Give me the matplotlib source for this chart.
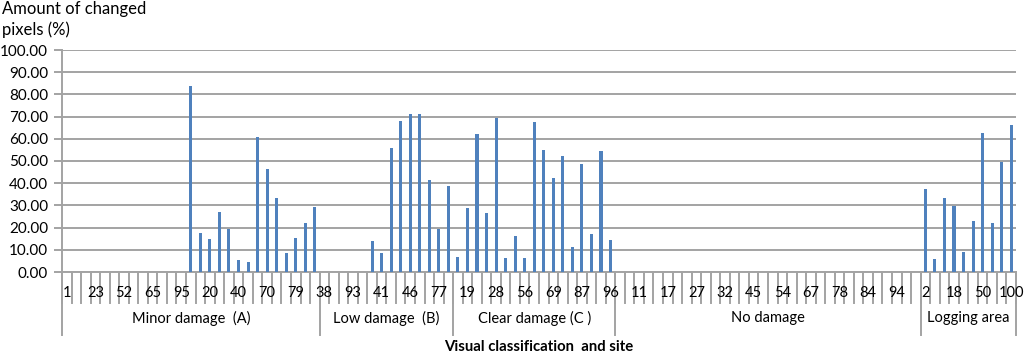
import matplotlib
matplotlib.use("Agg")
import matplotlib.pyplot as plt
import matplotlib.transforms as mtransforms
import numpy as np

# bar heights per site, 100 categories in axis order (0 = no bar)
minor_vals = [0] * 13 + [83.7, 17.7, 14.8, 27.1, 19.3, 5.5, 4.3, 61.0, 46.5, 33.3, 8.4, 15.4, 22.2, 29.4]
low_vals = [0] * 5 + [13.9, 8.4, 56.0, 68.1, 71.0, 71.2, 41.6, 19.5, 38.8]
clear_vals = [6.7, 28.9, 62.3, 26.6, 69.3, 6.1, 16.2, 6.1, 67.7, 54.9, 42.2, 52.2, 11.2, 48.8, 17.2, 54.3, 14.4]
nodamage_vals = [0] * 32
logging_vals = [37.2, 6.0, 33.5, 29.9, 8.9, 22.8, 62.8, 22.2, 49.5, 66.2]

group_names = ["Minor damage  (A)", "Low damage  (B)", "Clear damage (C )", "No damage", "Logging area"]
group_series = [minor_vals, low_vals, clear_vals, nodamage_vals, logging_vals]

# site labels shown on the axis (every third category)
shown_sites = ["1", "23", "52", "65", "95", "20", "40", "70", "79", "38", "93", "41",
               "46", "77", "19", "28", "56", "69", "87", "96", "11", "17", "27", "32",
               "45", "54", "67", "78", "84", "94", "2", "18", "50", "100"]
label_step = 3

values = np.concatenate([np.asarray(v, dtype=float) for v in group_series])
sizes = [len(v) for v in group_series]
n = len(values)
x = np.arange(n)

plt.rcParams["font.family"] = ["Lato", "DejaVu Sans"]
grid_col = "#a3a3a3"
bar_col = "#4f81bd"

fig = plt.figure(figsize=(10.24, 3.55), dpi=100)
ax = fig.add_axes([62 / 1024, 83 / 355, 954 / 1024, 222 / 355])

ax.bar(x, np.where(values > 0, values, np.nan), width=0.32, color=bar_col, zorder=3)
ax.set_xlim(-0.5, n - 0.5)
ax.set_ylim(0, 100)
ax.set_yticks(np.arange(0, 101, 10))
ax.set_yticklabels([f"{v:.2f}" for v in np.arange(0, 101, 10)], fontsize=11)
ax.tick_params(axis="y", length=6, width=1.4, color=grid_col, pad=4)
ax.set_xticks([])
ax.grid(axis="y", color=grid_col, linewidth=1.4, zorder=0)
ax.set_axisbelow(True)
for side in ("top", "right"):
    ax.spines[side].set_visible(False)
for side in ("left", "bottom"):
    ax.spines[side].set_color(grid_col)
    ax.spines[side].set_linewidth(1.4)

# multi-level category axis
trans = mtransforms.blended_transform_factory(ax.transData, ax.transAxes)
tick_drop = -31 / 222
group_drop = -63 / 222
for k in range(n + 1):
    ax.plot([k - 0.5, k - 0.5], [0, tick_drop], transform=trans, color=grid_col,
            linewidth=1.4, clip_on=False, zorder=1)
for i, lab in enumerate(shown_sites):
    ax.text(i * label_step, -21 / 222, lab, transform=trans, ha="center", va="center",
            fontsize=10.5)

edges = np.concatenate([[0], np.cumsum(sizes)])
for e in edges:
    ax.plot([e - 0.5, e - 0.5], [0, group_drop], transform=trans, color=grid_col,
            linewidth=1.4, clip_on=False, zorder=1)
for name, a, b in zip(group_names, edges[:-1], edges[1:]):
    ax.text((a + b - 1) / 2, -46 / 222, name, transform=trans, ha="center", va="center",
            fontsize=10.5)

fig.text(0.5 * (62 + 1016) / 1024, 1 - 347 / 355, "Visual classification  and site",
         ha="center", va="center", fontsize=10.7, fontweight="bold")
fig.text(0.002, 1 - 1 / 355, "Amount of changed\npixels (%)", ha="left", va="top",
         fontsize=12, linespacing=1.3)

fig.savefig("out.png", dpi=100)
